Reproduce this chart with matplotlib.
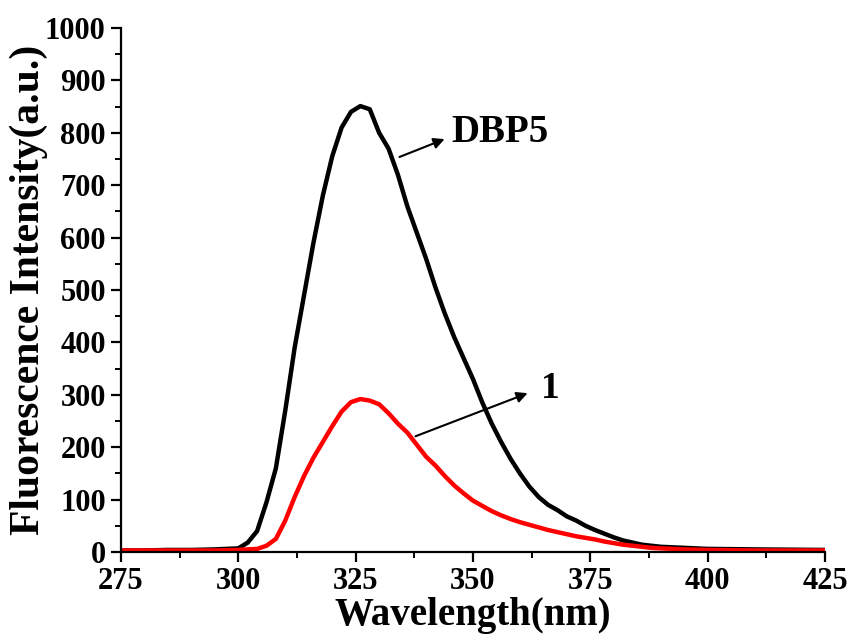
import numpy as np
import matplotlib
matplotlib.use('Agg')
import matplotlib.pyplot as plt
from matplotlib.ticker import MultipleLocator

plt.rcParams['font.family'] = ['Liberation Serif', 'DejaVu Serif']
plt.rcParams['font.weight'] = 'bold'

# DBP5 spectrum (black)
wl_dbp5 = [275, 280, 285, 290, 295, 300, 302, 304, 306, 308, 310, 312, 314, 316,
           318, 320, 322, 324, 326, 328, 330, 332, 334, 336, 338, 340, 342, 344,
           346, 348, 350, 352, 354, 356, 358, 360, 362, 364, 366, 368, 370, 372,
           374, 376, 378, 380, 382, 384, 386, 388, 390, 395, 400, 410, 425]
int_dbp5 = [3, 3, 4, 4, 5, 7, 18, 40, 95, 160, 270, 390, 490, 590,
            680, 755, 810, 840, 851, 845, 800, 770, 720, 660, 610, 560, 505, 455,
            410, 370, 330, 285, 245, 210, 178, 150, 125, 105, 90, 80, 68, 60,
            50, 42, 35, 28, 22, 18, 14, 12, 10, 8, 6, 5, 4]

# compound 1 spectrum (red)
wl_1 = [275, 280, 285, 290, 295, 300, 304, 306, 308, 310, 312, 314, 316, 318,
        320, 322, 324, 326, 328, 330, 332, 334, 336, 338, 340, 342, 344, 346,
        348, 350, 352, 354, 356, 358, 360, 362, 364, 366, 368, 370, 372, 374,
        376, 378, 380, 382, 384, 386, 388, 390, 395, 400, 410, 425]
int_1 = [3, 3, 3, 3, 3, 4, 6, 12, 25, 60, 105, 145, 180, 210,
         240, 268, 286, 292, 289, 282, 265, 245, 228, 205, 182, 165, 145, 127,
         112, 98, 88, 78, 70, 63, 57, 52, 47, 42, 38, 34, 30, 27,
         24, 20, 17, 14, 12, 10, 8, 7, 5, 4, 3, 3]

fig = plt.figure(figsize=(8.54, 6.34), dpi=100)
ax = fig.add_axes([0.1417, 0.1293, 0.8243, 0.8265])

ax.plot(wl_dbp5, int_dbp5, color='black', lw=3.2, solid_joinstyle='round')
ax.plot(wl_1, int_1, color='red', lw=3.2, solid_joinstyle='round')

ax.set_xlim(275, 425)
ax.set_ylim(0, 1000)
ax.xaxis.set_major_locator(MultipleLocator(25))
ax.xaxis.set_minor_locator(MultipleLocator(12.5))
ax.yaxis.set_major_locator(MultipleLocator(100))
ax.yaxis.set_minor_locator(MultipleLocator(50))

for s in ['top', 'right']:
    ax.spines[s].set_visible(False)
for s in ['left', 'bottom']:
    ax.spines[s].set_linewidth(1.6)

ax.tick_params(which='major', direction='out', length=7, width=1.6,
               labelsize=22, pad=4)
ax.tick_params(axis='x', which='major', pad=4)
ax.tick_params(which='minor', direction='out', length=4, width=1.4)
for lab in ax.get_xticklabels() + ax.get_yticklabels():
    lab.set_fontweight('bold')

ax.set_xlabel('Wavelength(nm)', fontsize=28, fontweight='bold', labelpad=0.5)
ax.set_ylabel('Fluorescence Intensity(a.u.)', fontsize=30, fontweight='bold',
              labelpad=-2)

ax.annotate('', xy=(344.5, 790), xytext=(333.8, 752),
            arrowprops=dict(arrowstyle='-|>', color='black', lw=1.5,
                            mutation_scale=16))
ax.text(345.5, 800, 'DBP5', fontsize=28, fontweight='bold', va='center')

ax.annotate('', xy=(362.2, 305), xytext=(337.2, 219),
            arrowprops=dict(arrowstyle='-|>', color='black', lw=1.5,
                            mutation_scale=16))
ax.text(364.5, 313, '1', fontsize=27, fontweight='bold', va='center')

fig.savefig('out.png', dpi=100)
